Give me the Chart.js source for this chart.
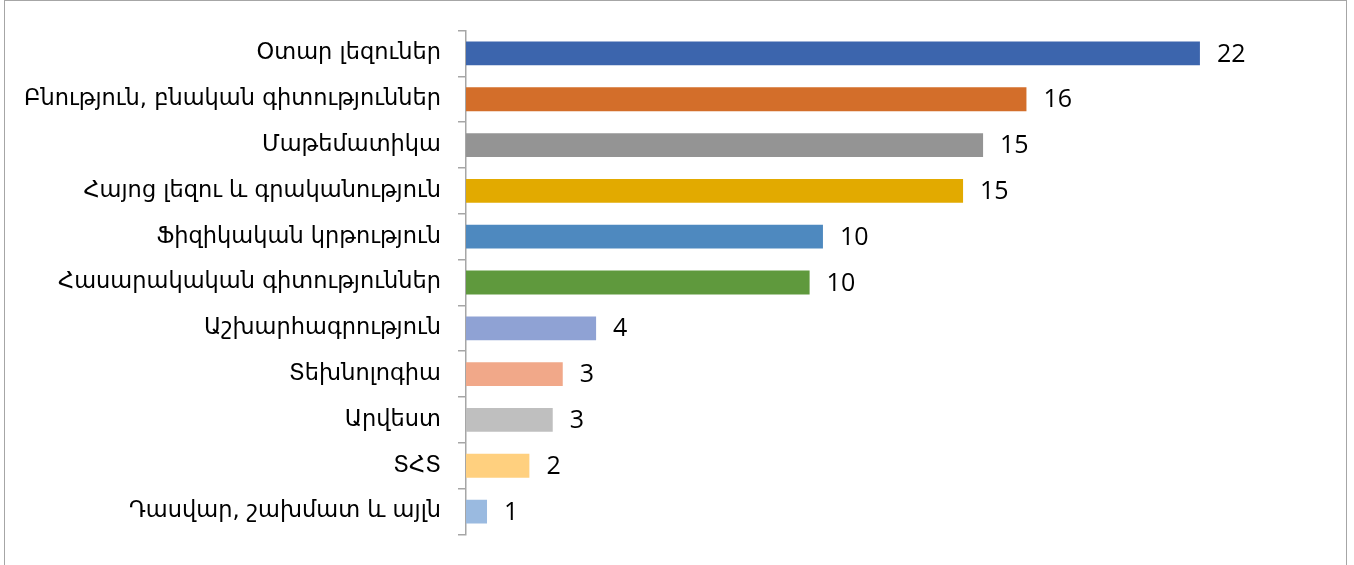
<!DOCTYPE html>
<html>
<head>
<meta charset="utf-8">
<script src="https://cdn.jsdelivr.net/npm/chart.js@4/dist/chart.umd.min.js"></script>
<style>
  html, body { margin: 0; padding: 0; background: #fff; }
  #wrap { position: relative; width: 1354px; height: 565px; overflow: hidden; }
  #frame { position: absolute; left: 4px; top: 0; width: 1343px; height: 600px; border: 1px solid #a6a6a6; box-sizing: border-box; }
  canvas { position: absolute; left: 0; top: 0; }
</style>
</head>
<body>
<div id="wrap">
  <div id="frame"></div>
  <canvas id="chart" width="1354" height="565"></canvas>
</div>
<script>
// Առարկաներ
const subjects = [
    "Օտար լեզուներ",
    "Բնություն, բնական գիտություններ",
    "Մաթեմատիկա",
    "Հայոց լեզու և գրականություն",
    "Ֆիզիկական կրթություն",
    "Հասարակական գիտություններ",
    "Աշխարհագրություն",
    "Տեխնոլոգիա",
    "Արվեստ",
    "ՏՀՏ",
    "Դասվար, շախմատ և այլն"
];
// bar lengths
const values = [22, 16.8, 15.5, 14.9, 10.7, 10.3, 3.9, 2.9, 2.6, 1.9, 0.63];
// numbers printed next to the bars
const valueLabels = ["22", "16", "15", "15", "10", "10", "4", "3", "3", "2", "1"];
const barColors = [
    "#3c65ad", "#d36e2a", "#949494", "#e2aa00", "#4e89bf", "#5f993d",
    "#8fa2d4", "#f1a889", "#bfbfbf", "#ffd07f", "#9abae0"
];

const valueLabelPlugin = {
    id: 'valueLabels',
    afterDatasetsDraw(chart) {
        const ctx = chart.ctx;
        const meta = chart.getDatasetMeta(0);
        ctx.save();
        ctx.font = '25px "Open Sans", sans-serif';
        ctx.fillStyle = '#000';
        ctx.textAlign = 'left';
        ctx.textBaseline = 'middle';
        meta.data.forEach((bar, i) => {
            ctx.fillText(valueLabels[i], bar.x + 17, bar.y + 1);
        });
        ctx.restore();
    }
};

new Chart(document.getElementById('chart').getContext('2d'), {
    type: 'bar',
    data: {
        labels: subjects,
        datasets: [{
            data: values,
            backgroundColor: barColors,
            categoryPercentage: 1,
            barPercentage: 0.52
        }]
    },
    options: {
        indexAxis: 'y',
        responsive: false,
        animation: false,
        layout: { padding: { left: 0, top: 29, bottom: 25, right: 54 } },
        scales: {
            x: { display: false, min: 0, max: 25 },
            y: {
                afterFit: (axis) => { axis.width = 466; },
                border: { display: true, color: '#a6a6a6', width: 1.5 },
                grid: { drawOnChartArea: false, tickLength: 8, color: '#a6a6a6', lineWidth: 1.5 },
                ticks: {
                    color: '#000',
                    padding: 17,
                    font: { family: '"DejaVu Sans", sans-serif', size: 22.5 }
                }
            }
        },
        plugins: {
            legend: { display: false },
            tooltip: { enabled: false }
        }
    },
    plugins: [valueLabelPlugin]
});
</script>
</body>
</html>
